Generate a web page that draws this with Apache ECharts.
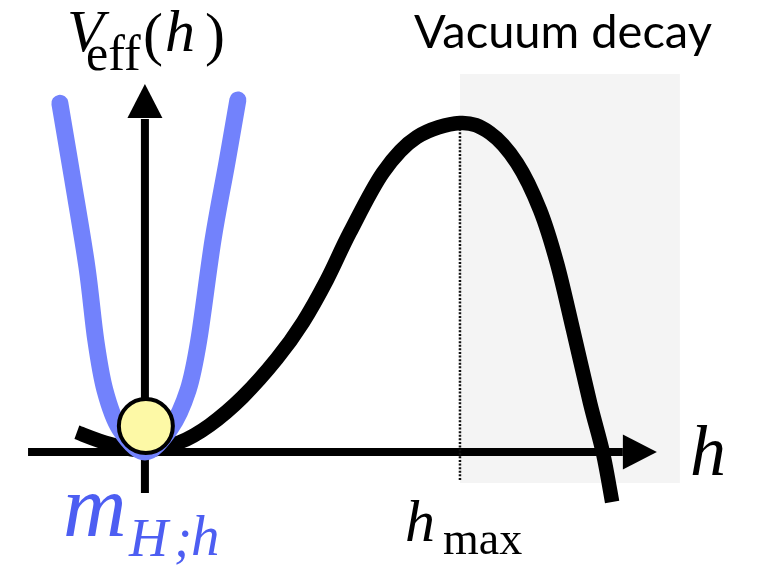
<!DOCTYPE html>
<html>
<head>
<meta charset="utf-8">
<script src="https://cdn.jsdelivr.net/npm/echarts@6/dist/echarts.min.js"></script>
<style>
html,body{margin:0;padding:0;background:#fff;}
#chart{width:758px;height:568px;}
</style>
</head>
<body>
<div id="chart"></div>
<script>
// ---- data (h in units of h_max, V in units of V(h_max)) ----
const curveH = [-0.216, -0.111, 0, 0.111, 0.206, 0.311, 0.419, 0.502, 0.578, 0.651, 0.756, 0.863, 1.0, 1.095, 1.181, 1.254, 1.308, 1.359, 1.413, 1.454, 1.483];
const curveV = [0.06, 0.024, 0.004, 0.03, 0.082, 0.168, 0.284, 0.395, 0.524, 0.668, 0.85, 0.957, 1.0, 0.97, 0.878, 0.736, 0.574, 0.371, 0.149, -0.003, -0.152];
const blueH = [-0.27, -0.229, -0.184, -0.156, -0.127, -0.08, 0, 0.08, 0.137, 0.171, 0.216, 0.26, 0.295];
const blueV = [1.06, 0.827, 0.562, 0.34, 0.188, 0.07, 0.0, 0.07, 0.188, 0.34, 0.644, 0.878, 1.07];
const hMax = 1.0;
const vMax = 1.0;
const decayRegionH = [1.0, 1.698];
const decayRegionV = [-0.094, 1.149];
const xAxisExtent = [-0.371, 1.517];
const yAxisExtent = [-0.125, 1.012];
const xArrowTip = [1.571, 0];
const yArrowTip = [0, 1.067];
const dottedBottom = -0.085;
const ballPos = [0.003, 0.079];
const labels = {vacuum: 'Vacuum decay'};

const zip = (a, b) => a.map((v, i) => [v, b[i]]);

// Catmull-Rom spline through pixel points -> SVG path
function splinePath(pts) {
  let d = 'M' + pts[0][0] + ',' + pts[0][1];
  for (let i = 0; i < pts.length - 1; i++) {
    const p0 = pts[i - 1] || pts[i], p1 = pts[i], p2 = pts[i + 1], p3 = pts[i + 2] || pts[i + 1];
    const c1x = p1[0] + (p2[0] - p0[0]) / 6, c1y = p1[1] + (p2[1] - p0[1]) / 6;
    const c2x = p2[0] - (p3[0] - p1[0]) / 6, c2y = p2[1] - (p3[1] - p1[1]) / 6;
    d += ' C' + c1x + ',' + c1y + ' ' + c2x + ',' + c2y + ' ' + p2[0] + ',' + p2[1];
  }
  return d;
}
function splineSeries(xs, ys, z, stroke, width, cap) {
  return {
    type: 'custom', z: z, silent: true, clip: false,
    data: zip(xs, ys),
    encode: {x: 0, y: 1},
    renderItem: function (params, api) {
      if (params.dataIndex !== 0) return null;
      const pts = xs.map((x, i) => api.coord([x, ys[i]]));
      return {
        type: 'path',
        shape: {pathData: splinePath(pts)},
        style: {stroke: stroke, lineWidth: width, fill: null, lineCap: cap, lineJoin: 'round'}
      };
    }
  };
}

const chart = echarts.init(document.getElementById('chart'), null, {renderer: 'canvas'});
const serif = '"Liberation Serif","DejaVu Serif",serif';

const option = {
  animation: false,
  backgroundColor: '#ffffff',
  grid: {left: 0, right: 0, top: 0, bottom: 0},
  xAxis: {type: 'value', min: -0.46, max: 1.946, show: false},
  yAxis: {type: 'value', min: -0.3526, max: 1.3739, show: false},
  series: [
    {
      type: 'line', z: 1, symbol: 'none', silent: true,
      data: [],
      markArea: {
        silent: true,
        itemStyle: {color: '#f4f4f4'},
        data: [[{coord: [decayRegionH[0], decayRegionV[1]]}, {coord: [decayRegionH[1], decayRegionV[0]]}]]
      }
    },
    {
      type: 'line', z: 2, symbol: 'none', silent: true,
      data: [[xAxisExtent[0], 0], [xAxisExtent[1], 0]],
      lineStyle: {color: '#000', width: 8}
    },
    {
      type: 'line', z: 2, symbol: 'none', silent: true,
      data: [[0, yAxisExtent[0]], [0, yAxisExtent[1]]],
      lineStyle: {color: '#000', width: 8}
    },
    {
      type: 'scatter', z: 2, silent: true,
      symbol: 'triangle', symbolSize: [35, 34],
      itemStyle: {color: '#000', opacity: 1},
      data: [
        {value: xArrowTip, symbolRotate: -90},
        {value: yArrowTip, symbolRotate: 0}
      ]
    },
    {
      type: 'line', z: 3, symbol: 'none', silent: true,
      data: [[hMax, dottedBottom], [hMax, vMax]],
      lineStyle: {color: '#111', width: 2.5, type: [2, 1.6]}
    },
    splineSeries(curveH, curveV, 4, '#000', 14.5, 'butt'),
    splineSeries(blueH, blueV, 5, '#7282fc', 17, 'round'),
    {
      type: 'scatter', z: 6, silent: true,
      symbol: 'circle', symbolSize: 54,
      itemStyle: {color: '#fdf9a6', borderColor: '#000', borderWidth: 4, opacity: 1},
      data: [ballPos]
    }
  ],
  graphic: [
    {type: 'text', left: 67, top: 5, z: 10, style: {text: 'V', font: 'italic 60px ' + serif, fill: '#000'}},
    {type: 'text', left: 86, top: 32, z: 10, style: {text: 'eff', font: '50px ' + serif, fill: '#000'}},
    {type: 'text', left: 143, top: 8, z: 10, style: {text: '(', font: '60px ' + serif, fill: '#000'}},
    {type: 'text', left: 165, top: 5, z: 10, style: {text: 'h', font: 'italic 60px ' + serif, fill: '#000'}},
    {type: 'text', left: 205, top: 8, z: 10, style: {text: ')', font: '60px ' + serif, fill: '#000'}},
    {type: 'text', left: 414, top: 9, z: 10, style: {text: labels.vacuum, font: '47px Lato', fill: '#000'}},
    {type: 'text', left: 690, top: 420, z: 10, style: {text: 'h', font: 'italic 72px ' + serif, fill: '#000'}},
    {type: 'text', left: 405, top: 495, z: 10, style: {text: 'h', font: 'italic 60px ' + serif, fill: '#000'}},
    {type: 'text', left: 443, top: 519, z: 10, style: {text: 'max', font: '46px ' + serif, fill: '#000'}},
    {type: 'text', left: 63, top: 469, z: 10, style: {text: 'm', font: 'italic 88px ' + serif, fill: '#4d5ef2'}},
    {type: 'text', left: 129, top: 515, z: 10, style: {text: 'H', font: 'italic 54px ' + serif, fill: '#4d5ef2'}},
    {type: 'text', left: 174, top: 515, z: 10, style: {text: ';', font: 'italic 54px ' + serif, fill: '#4d5ef2'}},
    {type: 'text', left: 191, top: 512, z: 10, style: {text: 'h', font: 'italic 57px ' + serif, fill: '#4d5ef2'}}
  ]
};
chart.setOption(option);
</script>
</body>
</html>
